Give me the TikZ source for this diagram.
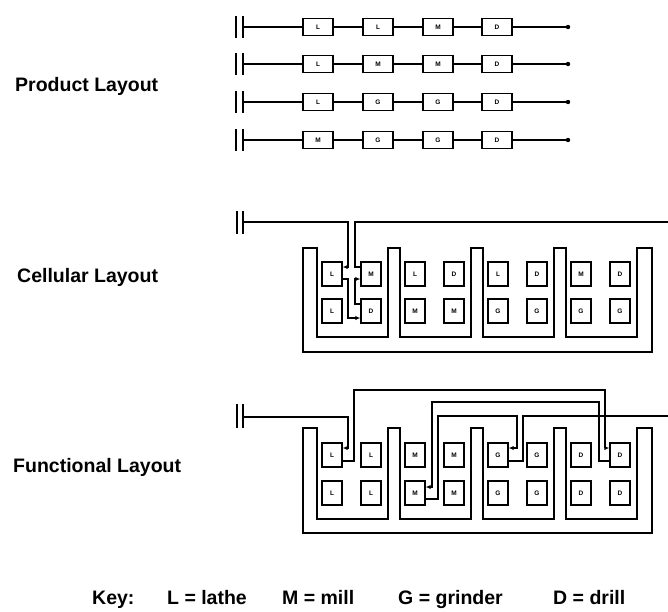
\documentclass[tikz,border=0pt]{standalone}
\usepackage{fontspec}
\setmainfont{Liberation Sans}
\usetikzlibrary{arrows.meta,calc}
\newcommand\cellframe[3]{%
 \draw[wall] (303,#1) -- (303,#3) -- (652,#3) -- (652,#1) -- (637,#1) -- (637,#2)
   -- (566,#2) -- (566,#1) -- (554,#1) -- (554,#2) -- (483,#2) -- (483,#1)
   -- (471,#1) -- (471,#2) -- (400,#2) -- (400,#1) -- (388,#1) -- (388,#2)
   -- (317,#2) -- (317,#1) -- cycle;}
\begin{document}
\begin{tikzpicture}[x=1pt,y=-1pt,
  wire/.style={line width=1.1pt},
  wall/.style={line width=1.3pt},
  pbox/.style={draw,line width=1.4pt,minimum width=30pt,minimum height=17pt,inner sep=0pt,
    font=\fontsize{6.5}{6.5}\selectfont\bfseries,fill=white},
  cbox/.style={draw,line width=1.4pt,minimum width=20pt,minimum height=24pt,inner sep=0pt,
    font=\fontsize{6.5}{6.5}\selectfont\bfseries},
  lbl/.style={anchor=base west,font=\fontsize{19.5}{20}\selectfont\bfseries,inner sep=0pt},
  arr/.style={-{Latex[length=5pt,width=4.5pt]}},
  bar/.style={line width=1.1pt}
]
\useasboundingbox (0,0) rectangle (668,611);

% ---------- labels
\node[lbl] (tprod) at (15,91) {Product Layout};
\node[lbl] (tcell) at (17,282) {Cellular Layout};
\node[lbl] (tfunc) at (13,472) {Functional Layout};

% ---------- product layout
\foreach \r/\y/\a/\b/\c/\d in {1/27/L/L/M/D, 2/64/L/M/M/D, 3/102/L/G/G/D, 4/140/M/G/G/D} {
  \draw[bar] (236,{\y-11}) -- (236,{\y+11});
  \draw[bar] (243,{\y-11}) -- (243,{\y+11});
  \coordinate (ps\r) at (243,\y);
  \coordinate (pe\r) at (568,\y);
  \node[pbox] (p\r-a) at (318,\y) {\a};
  \node[pbox] (p\r-b) at (378,\y) {\b};
  \node[pbox] (p\r-c) at (438,\y) {\c};
  \node[pbox] (p\r-d) at (497,\y) {\d};
  \draw[wire] (ps\r) -- (p\r-a) -- (p\r-b) -- (p\r-c) -- (p\r-d) -- (pe\r);
  \fill (pe\r) circle (2.2);
}

% ---------- cellular layout
\cellframe{248}{337}{352}
\foreach \i/\a/\b/\c/\d in {0/L/M/L/D, 1/L/D/M/M, 2/L/D/G/G, 3/M/D/G/G} {
  \node[cbox] (c\i-a) at ({332+83*\i},274) {\a};
  \node[cbox] (c\i-b) at ({371+83*\i},274) {\b};
  \node[cbox] (c\i-c) at ({332+83*\i},311) {\c};
  \node[cbox] (c\i-d) at ({371+83*\i},311) {\d};
}
\draw[bar] (237,211) -- (237,234);
\draw[bar] (243,211) -- (243,234);
\coordinate (cs) at (243,222);
\coordinate (ce) at (668,222);
\draw[wire,arr] (cs) -| (348,267) -- ($(c0-a.east)+(0,-7)$);
\draw[wire,arr] ($(c0-a.east)+(0,5)$) -| (348,318) -- ($(c0-d.west)+(0,7)$);
\draw[wire,arr] ($(c0-d.west)+(0,-7)$) -| (355,279) -- ($(c0-b.west)+(0,5)$);
\draw[wire] ($(c0-b.west)+(0,-7)$) -| (355,222) -- (ce);

% ---------- functional layout
\cellframe{428}{519}{533}
\foreach \i/\a in {0/L, 1/M, 2/G, 3/D} {
  \node[cbox] (f\i-a) at ({332+83*\i},455) {\a};
  \node[cbox] (f\i-b) at ({371+83*\i},455) {\a};
  \node[cbox] (f\i-c) at ({332+83*\i},493) {\a};
  \node[cbox] (f\i-d) at ({371+83*\i},493) {\a};
}
\draw[bar] (237,404) -- (237,428);
\draw[bar] (243,404) -- (243,428);
\coordinate (fs) at (243,417);
\coordinate (fe) at (668,416);
\draw[wire,arr] (fs) -| (348,448) -- ($(f0-a.east)+(0,-7)$);
\draw[wire,arr] ($(f0-a.east)+(0,6)$) -| (354,390) -| (605,448) -- ($(f3-b.west)+(0,-7)$);
\draw[wire,arr] ($(f3-b.west)+(0,6)$) -| (599,402) -| (432,487) -- ($(f1-c.east)+(0,-6)$);
\draw[wire,arr] ($(f1-c.east)+(0,6)$) -| (438,416) -| (517,448) -- ($(f2-a.east)+(0,-7)$);
\draw[wire] ($(f2-a.east)+(0,6)$) -| (523,416) -- (fe);

% ---------- key
\node[lbl] (key) at (92,604) {Key:};
\node[lbl] (kl) at (167,604) {L = lathe};
\node[lbl] (km) at (282,604) {M = mill};
\node[lbl] (kg) at (398,604) {G = grinder};
\node[lbl] (kd) at (553,604) {D = drill};
\end{tikzpicture}
\end{document}
